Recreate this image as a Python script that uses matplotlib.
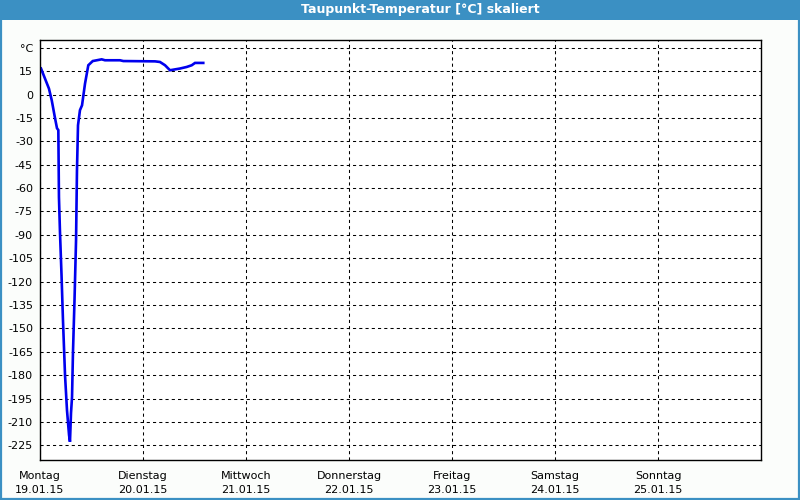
import matplotlib
matplotlib.use("Agg")
import matplotlib.pyplot as plt
from matplotlib.patches import Rectangle
from matplotlib.lines import Line2D

title = "Taupunkt-Temperatur [°C] skaliert"
day_names = ["Montag", "Dienstag", "Mittwoch", "Donnerstag", "Freitag", "Samstag", "Sonntag"]
day_dates = ["19.01.15", "20.01.15", "21.01.15", "22.01.15", "23.01.15", "24.01.15", "25.01.15"]
y_ticks = [30, 15, 0, -15, -30, -45, -60, -75, -90, -105, -120, -135, -150, -165,
           -180, -195, -210, -225]
y_labels = ["°C"] + [str(v) for v in y_ticks[1:]]

# time in days since Monday 00:00, dew point in °C
t_days = [0.01, 0.087, 0.114, 0.146, 0.165, 0.178, 0.184, 0.194, 0.209, 0.223,
          0.243, 0.262, 0.282, 0.291, 0.301, 0.311, 0.320, 0.335, 0.350, 0.359,
          0.369, 0.388, 0.408, 0.437, 0.469, 0.512, 0.599, 0.631, 0.777, 0.809,
          1.117, 1.165, 1.214, 1.262, 1.359, 1.424, 1.473, 1.505, 1.585]
dew = [16.7, 3.8, -3.7, -15.2, -21.6, -22.8, -65.8, -88.3, -115.8, -144.7,
       -180.0, -202.4, -218.4, -222.7, -204.3, -194.0, -165.8, -131.9, -93.4, -48.5,
       -19.7, -10.0, -6.9, 7.0, 18.8, 21.5, 22.6, 22.0, 22.0, 21.5,
       21.3, 20.9, 18.8, 15.6, 16.7, 17.7, 18.8, 20.3, 20.3]

W, H = 800, 500
fig = plt.figure(figsize=(8, 5), dpi=100)
fig.patch.set_facecolor("#fbfdfb")

# title bar
bar_col = "#3b90c3"
fig.add_artist(Rectangle((0, 1 - 20 / H), 1, 20 / H, transform=fig.transFigure,
                         facecolor=bar_col, edgecolor="none", zorder=0))
fig.text(420 / W, 1 - 10 / H, title, color="white", fontsize=9, fontweight="bold",
         ha="center", va="center", family="DejaVu Sans")
# frame border
for xs, ys in [([1 / W, 1 / W], [0, 1]), ([1 - 1 / W, 1 - 1 / W], [0, 1]),
               ([0, 1], [1 / H, 1 / H])]:
    fig.add_artist(Line2D(xs, ys, transform=fig.transFigure, color=bar_col, lw=1.6))

ax = fig.add_axes([40 / W, 40 / H, 721 / W, 420 / H])
ax.set_facecolor("white")
ax.plot(t_days, dew, color="#0000ee", lw=1.9, solid_joinstyle="miter")
ax.set_xlim(0, 7)
ax.set_ylim(-234.4, 35.0)

ax.set_xticks(range(7))
ax.set_xticklabels([f"{n}\n{d}" for n, d in zip(day_names, day_dates)],
                   fontsize=8, linespacing=1.5)
ax.set_yticks(y_ticks)
ax.set_yticklabels(y_labels, fontsize=8)
ax.tick_params(axis="both", length=0, colors="black")
ax.tick_params(axis="x", pad=8)
ax.tick_params(axis="y", pad=5)
ax.grid(True, color="black", linestyle=(0, (3, 3)), lw=0.75)
for s in ax.spines.values():
    s.set_color("black")
    s.set_linewidth(1.0)

fig.savefig("out.png", dpi=100, facecolor=fig.get_facecolor())
